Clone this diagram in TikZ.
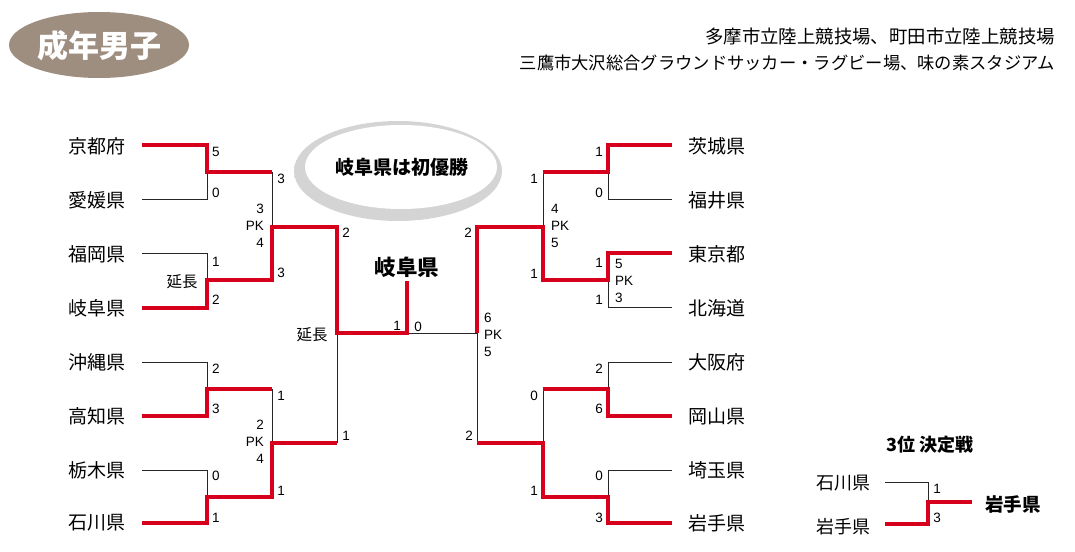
\documentclass[tikz,border=0pt]{standalone}
\usepackage{fontspec}
\setmainfont{Noto Sans CJK JP}
\newfontfamily\numfont{Liberation Sans}
\definecolor{myred}{RGB}{214,0,28}
\definecolor{titlebg}{RGB}{158,142,128}
\pgfdeclareradialshading{bshadow}{\pgfpoint{0bp}{0bp}}{color(0bp)=(black!17); color(41bp)=(black!17); color(50bp)=(white)}
\begin{document}
\begin{tikzpicture}[x=1pt,y=-1pt,
  win/.style={draw=myred,line width=4pt,line join=miter},
  lose/.style={draw=black!85,line width=0.9pt},
  team/.style={inner sep=0pt,font=\fontsize{19}{22}\selectfont},
  sc/.style={inner sep=0pt,font=\numfont\fontsize{13.5}{17}\selectfont},
  pkr/.style={sc,align=right,anchor=east},
  pkl/.style={sc,align=left,anchor=west},
  note/.style={inner sep=0pt,anchor=east}]
\useasboundingbox (0,0) rectangle (1075,551);

% title
\fill[titlebg] (99,45) ellipse [x radius=90pt, y radius=33pt];
\node[inner sep=0pt,text=white,font=\fontsize{31}{34}\selectfont\bfseries] (title) at (99,46) {成年男子};

% venues
\node[note,font=\fontsize{18.4}{20}\selectfont] (venue1) at (1055,36) {多摩市立陸上競技場、町田市立陸上競技場};
\node[note,font=\fontsize{17.3}{20}\selectfont] (venue2) at (1055,63) {三鷹市大沢総合グラウンドサッカー・ラグビー場、味の素スタジアム};

% bubble
\shade[shading=bshadow] (398,171) ellipse [x radius=104pt, y radius=50pt];
\fill[white] (401,167) ellipse [x radius=96pt, y radius=42pt];
\node[inner sep=0pt,font=\fontsize{19}{22}\selectfont\bfseries] (bubble) at (402,167) {岐阜県は初優勝};

% teams left
\node[team] (kyoto) at (97,146) {京都府};
\node[team] (ehime) at (97,200) {愛媛県};
\node[team] (fukuoka) at (97,254) {福岡県};
\node[team] (gifu) at (97,308) {岐阜県};
\node[team] (okinawa) at (97,362) {沖縄県};
\node[team] (kochi) at (97,416) {高知県};
\node[team] (tochigi) at (97,470) {栃木県};
\node[team] (ishikawa) at (97,523) {石川県};
% teams right
\node[team] (ibaraki) at (717,146) {茨城県};
\node[team] (fukui) at (717,200) {福井県};
\node[team] (tokyo) at (717,254) {東京都};
\node[team] (hokkaido) at (717,308) {北海道};
\node[team] (osaka) at (717,362) {大阪府};
\node[team] (okayama) at (717,416) {岡山県};
\node[team] (saitama) at (717,470) {埼玉県};
\node[team] (iwate) at (717,523) {岩手県};

\node[inner sep=0pt,font=\fontsize{21.5}{24}\selectfont\bfseries] (champ) at (407,267) {岐阜県};

% coordinates
\coordinate (L1) at (142,145); \coordinate (L2) at (142,199);
\coordinate (L3) at (142,253); \coordinate (L4) at (142,308);
\coordinate (L5) at (142,362); \coordinate (L6) at (142,416);
\coordinate (L7) at (142,470); \coordinate (L8) at (142,523);
\coordinate (R1) at (672,145); \coordinate (R2) at (672,199);
\coordinate (R3) at (672,253); \coordinate (R4) at (672,307);
\coordinate (R5) at (672,362); \coordinate (R6) at (672,416);
\coordinate (R7) at (672,470); \coordinate (R8) at (672,523);
\coordinate (a1) at (207,172); \coordinate (a2) at (207,280);
\coordinate (a3) at (207,389); \coordinate (a4) at (207,497);
\coordinate (b1) at (272,227); \coordinate (b2) at (272,443);
\coordinate (c1) at (337,333);
\coordinate (f) at (407,333); \coordinate (ctop) at (407,281);
\coordinate (c2) at (477,333);
\coordinate (b3) at (543,227); \coordinate (b4) at (543,443);
\coordinate (a5) at (608,172); \coordinate (a6) at (608,280);
\coordinate (a7) at (608,389); \coordinate (a8) at (608,497);

% losing lines
\draw[lose] (L2) -| (a1);
\draw[lose] (L3) -| (a2);
\draw[lose] (L5) -| (a3);
\draw[lose] (L7) -| (a4);
\draw[lose] (a1 -| b1) -- (b1);
\draw[lose] (a3 -| b2) -- (b2);
\draw[lose] (c1) -- (b2 -| c1);
\draw[lose] (f) -- (c2) -- (b4 -| c2);
\draw[lose] (R2) -| (a5);
\draw[lose] (R4) -| (a6);
\draw[lose] (R5) -| (a7);
\draw[lose] (R7) -| (a8);
\draw[lose] (a5 -| b3) -- (b3);
\draw[lose] (a7 -| b4) -- (b4);

% winning lines
\draw[win] (L1) -| (a1) -- (a1 -| b1);
\draw[win] (L4) -| (a2) -- (a2 -| b1) -- (b1) -- (b1 -| c1) -- (c1) -- (f) -- (ctop);
\draw[win] (L6) -| (a3) -- (a3 -| b2);
\draw[win] (L8) -| (a4) -- (a4 -| b2) -- (b2) -- (b2 -| c1);
\draw[win] (R1) -| (a5) -- (a5 -| b3);
\draw[win] (R3) -| (a6) -- (a6 -| b3) -- (b3) -- (b3 -| c2) -- (c2);
\draw[win] (R6) -| (a7) -- (a7 -| b4);
\draw[win] (R8) -| (a8) -- (a8 -| b4) -- (b4) -- (b4 -| c2);

% scores left
\node[sc] (s1) at (216,152) {5};
\node[sc] (s2) at (216,193) {0};
\node[sc] (s3) at (216,262) {1};
\node[sc] (s4) at (216,300) {2};
\node[sc] (s5) at (216,369) {2};
\node[sc] (s6) at (216,409) {3};
\node[sc] (s7) at (216,476) {0};
\node[sc] (s8) at (216,518) {1};
\node[sc] (s9) at (281,179) {3};
\node[sc] (s10) at (281,273) {3};
\node[sc] (s11) at (281,396) {1};
\node[sc] (s12) at (281,491) {1};
\node[sc] (s13) at (346,233) {2};
\node[sc] (s14) at (346,436) {1};
\node[pkr] (pk1) at (264,226) {3\\PK\\4};
\node[pkr] (pk2) at (264,442) {2\\PK\\4};
\node[inner sep=0pt,font=\fontsize{15.5}{18}\selectfont] (ext1) at (182,282) {延長};
\node[inner sep=0pt,font=\fontsize{15.5}{18}\selectfont] (ext2) at (312,335) {延長};
% final
\node[sc] (s15) at (397,326) {1};
\node[sc] (s16) at (418,327) {0};
\node[pkl] (pk3) at (484,335) {6\\PK\\5};
% scores right
\node[sc] (s17) at (468,233) {2};
\node[sc] (s18) at (469,436) {2};
\node[sc] (s19) at (534,179) {1};
\node[sc] (s20) at (534,274) {1};
\node[sc] (s21) at (534,396) {0};
\node[sc] (s22) at (534,491) {1};
\node[pkl] (pk4) at (551,226) {4\\PK\\5};
\node[pkl] (pk5) at (615,281) {5\\PK\\3};
\node[sc] (s23) at (599,152) {1};
\node[sc] (s24) at (599,193) {0};
\node[sc] (s25) at (599,263) {1};
\node[sc] (s26) at (599,300) {1};
\node[sc] (s27) at (599,369) {2};
\node[sc] (s28) at (599,409) {6};
\node[sc] (s29) at (599,476) {0};
\node[sc] (s30) at (599,518) {3};

% third place
\node[inner sep=0pt,font=\fontsize{18}{21}\selectfont\bfseries] (third) at (930,445) {3位 決定戦};
\node[inner sep=0pt,font=\fontsize{18}{21}\selectfont] (t3a) at (843,483) {石川県};
\node[inner sep=0pt,font=\fontsize{18}{21}\selectfont] (t3b) at (843,527) {岩手県};
\node[inner sep=0pt,font=\fontsize{18.5}{21}\selectfont\bfseries] (t3w) at (1013,504) {岩手県};
\coordinate (T1) at (885,482); \coordinate (T2) at (885,524);
\coordinate (tj) at (928,502); \coordinate (tw) at (972,502);
\draw[lose] (T1) -| (tj);
\draw[win] (T2) -| (tj) -- (tw);
\node[sc] (s31) at (937,489) {1};
\node[sc] (s32) at (937,518) {3};
\end{tikzpicture}
\end{document}
